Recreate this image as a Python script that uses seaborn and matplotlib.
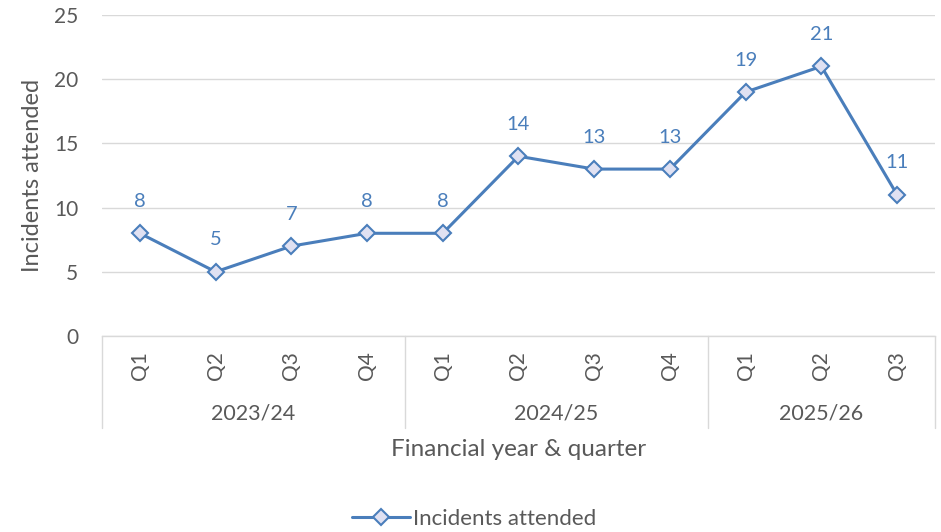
import matplotlib
matplotlib.use("Agg")
import matplotlib.pyplot as plt
import matplotlib.transforms as mtransforms
from matplotlib.lines import Line2D
import seaborn as sns
import pandas as pd

# Incidents attended per financial quarter
quarters = ["Q1", "Q2", "Q3", "Q4", "Q1", "Q2", "Q3", "Q4", "Q1", "Q2", "Q3"]
years = ["2023/24", "2024/25", "2025/26"]
quarters_per_year = [4, 4, 3]
incidents = [8, 5, 7, 8, 8, 14, 13, 13, 19, 21, 11]

df = pd.DataFrame({"pos": range(len(incidents)), "incidents": incidents})

sns.set_theme(style="white")
plt.rcParams["font.family"] = ["Lato", "DejaVu Sans"]

LINE = "#4A7EBB"
FACE = "#E0E1F2"
TEXT = "#595959"
GRID = "#D9D9D9"

fig = plt.figure(figsize=(9.41, 5.32), dpi=100)
ax = fig.add_axes([0.1084, 0.3684, 0.8852, 0.6034])

sns.lineplot(data=df, x="pos", y="incidents", ax=ax, color=LINE, linewidth=2.2,
             marker="D", markersize=8.5, markerfacecolor=FACE,
             markeredgecolor=LINE, markeredgewidth=1.5, zorder=3)

for x, v in zip(df["pos"], df["incidents"]):
    ax.annotate(str(v), (x, v), xytext=(0, 23), textcoords="offset points",
                ha="center", va="center", color=LINE, fontsize=14.5)

ax.set_xlim(-0.5, len(incidents) - 0.5)
ax.set_ylim(0, 25)
ax.set_yticks(range(0, 26, 5))
ax.grid(axis="y", color=GRID, linewidth=1)
ax.set_axisbelow(True)
for side in ["top", "right", "left"]:
    ax.spines[side].set_visible(False)
ax.spines["bottom"].set_color(GRID)
ax.spines["bottom"].set_linewidth(1)

ax.set_xticks(range(len(quarters)))
ax.set_xticklabels(quarters, rotation=90, color=TEXT, fontsize=15)
ax.tick_params(axis="x", length=0, pad=11)
ax.tick_params(axis="y", length=0, pad=17, labelcolor=TEXT, labelsize=15)
ax.set_xlabel("")
ax.set_ylabel("Incidents attended", color=TEXT, fontsize=17, labelpad=8)

# Year grouping row beneath the quarter labels
trans = mtransforms.blended_transform_factory(ax.transData, ax.transAxes)
start = 0
bounds = [-0.5]
for yr, n in zip(years, quarters_per_year):
    center = start + (n - 1) / 2
    ax.text(center, -0.24, yr, transform=trans, ha="center", va="center",
            color=TEXT, fontsize=15.5)
    start += n
    bounds.append(start - 0.5)
for b in bounds:
    ax.add_line(Line2D([b, b], [0, -0.287], transform=trans, color=GRID,
                       linewidth=1, clip_on=False))

ax.text(0.5, -0.353, "Financial year & quarter", transform=ax.transAxes,
        ha="center", va="center", color=TEXT, fontsize=17.5)

handle = Line2D([], [], color=LINE, linewidth=2.2, marker="D", markersize=8.5,
                markerfacecolor=FACE, markeredgecolor=LINE, markeredgewidth=1.5)
fig.legend([handle], ["Incidents attended"], loc="center",
           bbox_to_anchor=(0.504, 0.024), frameon=False, fontsize=16,
           labelcolor=TEXT, handlelength=2.6, handletextpad=0.15)

fig.savefig("out.png", dpi=100)
